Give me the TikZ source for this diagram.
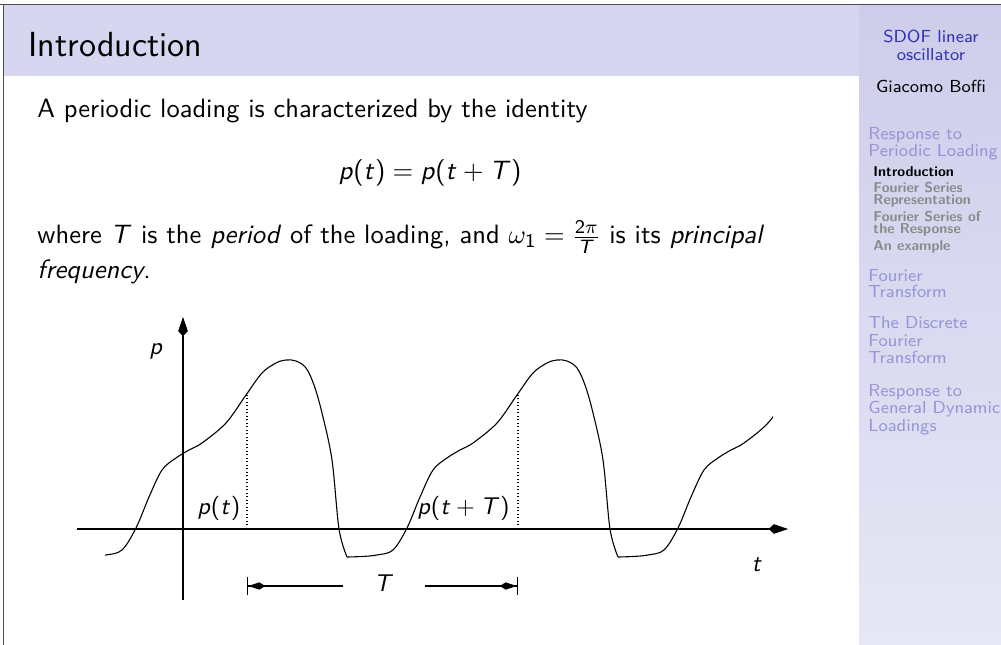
\documentclass[tikz,border=0pt]{standalone}
\usepackage{amsmath}
\usepackage{tikz}
\usetikzlibrary{arrows.meta,positioning}
\renewcommand\familydefault{\sfdefault}
\DeclareSymbolFont{operators}{OT1}{cmss}{m}{n}
\DeclareMathAlphabet{\mathsfit}{OT1}{cmss}{m}{sl}
\newcommand{\vp}{\mathsfit{p}}
\newcommand{\vt}{\mathsfit{t}}
\newcommand{\vT}{\mathsfit{T}}
\definecolor{headbg}{HTML}{D6D6F0}
\definecolor{sidetop}{HTML}{CDCDEB}
\definecolor{sidebot}{HTML}{E7E7F5}
\definecolor{struct}{HTML}{3333B3}
\definecolor{secfaded}{HTML}{9696D8}
\definecolor{subfaded}{HTML}{8A8A8A}
\definecolor{framegray}{HTML}{4D4D4D}

\begin{document}
\begin{tikzpicture}[x=0.4132pt,y=-0.4132pt,
    body/.style={anchor=base west,inner sep=0pt,font=\fontsize{10.95}{13.6}\selectfont},
    lab/.style={anchor=base,inner sep=0pt,font=\fontsize{10}{12}\selectfont},
    axis/.style={line width=0.5pt,-{Kite[length=8pt,width=4pt,inset=2.2pt]}},
    load/.style={line width=0.45pt},
    dimtip/.style={line width=0.45pt,-{Kite[length=7pt,width=3pt,inset=2.4pt]Bar[width=7.5pt,line width=0.5pt]}},
    sidetitle/.style={anchor=base,inner sep=0pt,font=\fontsize{7.2}{8}\selectfont},
    navsec/.style={anchor=base west,inner sep=0pt,secfaded,font=\fontsize{7.2}{8}\selectfont},
    navsub/.style={anchor=base west,inner sep=0pt,subfaded,font=\fontsize{5.9}{6}\selectfont\bfseries}]
  \useasboundingbox (0,0) rectangle (1001,645);
  % frame title bar and sidebar
  \fill[headbg] (3,5) rectangle (859,76);
  \shade[top color=sidetop,bottom color=sidebot] (859,5) rectangle (1001,645);
  \draw[framegray,line width=0.6pt] (0,4.5) -- (1001,4.5);
  \draw[framegray,line width=0.5pt] (3.5,4.5) -- (3.5,645);
  \node[anchor=base west,inner sep=0pt,font=\fontsize{14.4}{17}\selectfont] (title) at (28,57) {Introduction};

  % sidebar
  \foreach \y/\txt [count=\i] in {43/SDOF linear,61/oscillator}
    \node[sidetitle,struct] (stitle\i) at (931,\y) {\txt};
  \node[sidetitle] (author) at (931,93) {Giacomo Boffi};
  \foreach \y/\txt [count=\i] in {140/Response to,157/Periodic Loading,282/Fourier,298/Transform,
      329/The Discrete,347/Fourier,364/Transform,397/Response to,414/General Dynamic,432/Loadings}
    \node[navsec] (sec\i) at (868,\y) {\txt};
  \node[navsub,black] (sub0) at (873,177) {Introduction};
  \foreach \y/\txt [count=\i] in {193/Fourier Series,205/Representation,222/Fourier Series of,
      234/the Response,251/An example}
    \node[navsub] (sub\i) at (873,\y) {\txt};

  % body text
  \node[body] (line1) at (37,118) {A periodic loading is characterized by the identity};
  \node[body,anchor=base] (eq) at (430,180) {$\vp(\vt) = \vp(\vt+\vT)$};
  \node[body] (line2) at (37,244) {where $\vT$ is the \emph{period} of the loading, and $\omega_1 = \frac{2\pi}{\vT}$ is its \emph{principal}};
  \node[body] (line3) at (37,279) {\emph{frequency}.};

  % axes
  \coordinate (xa0) at (77,529);
  \coordinate (xa1) at (788,529);
  \coordinate (ya0) at (183,600);
  \coordinate (ya1) at (183,317);
  \draw[axis] (xa0) -- (xa1);
  \draw[axis] (ya0) -- (ya1);
  \node[lab] (plab) at (156,355) {$\vp$};
  \node[lab] (tlab) at (757,572) {$\vt$};

  % periodic load, one period from one trough to the next
  \begin{scope}
    \clip (105,300) rectangle (773,600);
    \foreach \k in {0,1,2}
      \draw[load,shift={(\k*271,0)}] plot[smooth,tension=0.55] coordinates {
        (76,557) (91,556.5) (106,555) (122,550) (136,528) (149,497) (162,470)
        (176,458) (189,450) (202,443) (226,423) (246,395) (262,373) (276,363)
        (286,360) (296,361) (306,368) (314,385) (322,413) (332,460) (339,529) (347,557)};
  \end{scope}

  % ordinates p(t) and p(t+T)
  \foreach \x/\n in {247/0,518/1}{
    \coordinate (q\n) at (\x,529);
    \coordinate (c\n) at (\x,395);
    \draw[densely dotted,line width=0.45pt] (q\n) -- (c\n);
  }
  \node[lab,anchor=base west] (pt) at (197,515) {$\vp(\vt)$};
  \node[lab,anchor=base west] (ptT) at (417,515) {$\vp(\vt+\vT)$};

  % period
  \coordinate (d0) at (247,586);
  \coordinate (d1) at (518,586);
  \node[lab,inner xsep=12.5pt,inner ysep=0pt] (Tlab) at (384,592) {$\vT$};
  \draw[dimtip] (Tlab.west |- d0) -- (d0);
  \draw[dimtip] (Tlab.east |- d1) -- (d1);
\end{tikzpicture}
\end{document}
